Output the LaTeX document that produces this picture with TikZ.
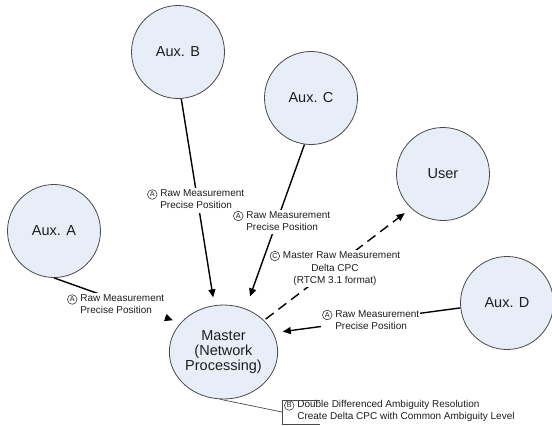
\documentclass[tikz,border=0pt]{standalone}
\usepackage{fontspec}
\setmainfont{Liberation Sans}
\usetikzlibrary{arrows.meta,shapes.geometric}
\definecolor{circfill}{HTML}{E8EEF8}
\definecolor{circline}{HTML}{4A4A4A}
\definecolor{txtcol}{HTML}{1E1E1E}
\newcommand{\circled}[1]{\tikz[baseline=(cl.base)]\node[circle, draw=txtcol,
  line width=0.5pt, inner sep=0pt, minimum size=9.6pt, text=txtcol,
  font=\fontsize{7.2}{7.2}\selectfont] (cl) {#1};}
\newcommand{\ind}{\phantom{\circled{A}\hspace{3pt}}}
\begin{document}
\begin{tikzpicture}[x=1pt,y=-1pt,
  station/.style={circle, draw=circline, fill=circfill, line width=0.8pt,
    minimum size=93pt, inner sep=0pt, align=center, text=txtcol,
    font=\fontsize{14.5}{15}\selectfont},
  link/.style={line width=1.4pt, -{Triangle[length=8pt,width=7pt]}},
  lbl/.style={fill=white, inner sep=1pt, align=left, text=txtcol,
    font=\fontsize{10}{12}\selectfont},
  thin line/.style={draw=circline, line width=0.7pt}]
\useasboundingbox (0,0) rectangle (552,426);
\clip (0,0) rectangle (552,426);
% stations
\node[station] (B) at (178,52) {Aux. B};
\node[station] (C) at (311,98) {Aux. C};
\node[station] (U) at (443,174) {User};
\node[station] (A) at (54,231) {Aux. A};
\node[station] (D) at (507,303) {Aux. D};
\node[station, ellipse, minimum width=87pt, minimum height=94pt]
  (M) at (223.5,352) {Master\\(Network\\Processing)};
% connectors
\draw[link, shorten >=8pt] (B.-86) -- (M.101);
\draw[link, shorten >=13pt] (C.262) -- (M.63);
\draw[link, shorten >=8pt] (A.south) -- (M.146);
\draw[link, shorten >=9.5pt] (D.186) -- (M.21);
\draw[link, dash pattern=on 10pt off 6pt, shorten >=8pt, shorten <=2pt] (M.38) -- (U.227);
% labels
\node[lbl, anchor=west] (lB) at (146,200.5) {\circled{A}\hspace{3pt}Raw Measurement\\\ind Precise Position};
\node[lbl, anchor=west] (lC) at (232,222) {\circled{A}\hspace{3pt}Raw Measurement\\\ind Precise Position};
\node[lbl, anchor=west] (lA) at (66,305.5) {\circled{A}\hspace{3pt}Raw Measurement\\\ind Precise Position};
\node[lbl, anchor=west] (lD) at (321,321) {\circled{A}\hspace{3pt}Raw Measurement\\\ind Precise Position};
\node[lbl, align=center, font=\fontsize{10}{12.5}\selectfont] (lU) at (335,268.3)
  {\circled{C}\hspace{3pt}Master Raw Measurement\\Delta CPC\\(RTCM 3.1 format)};
% callout
\coordinate (bt) at (282,400);
\coordinate (bb) at (282,424);
\coordinate (bm) at (282,412);
\node[lbl, fill=none, anchor=west] (lM) at (283,411.5)
  {\circled{B}\hspace{3pt}Double Differenced Ambiguity Resolution\\\ind Create Delta CPC with Common Ambiguity Level};
\draw[thin line] ([xshift=38pt]bt) -- (bt) -- (bb) -- ([xshift=38pt]bb);
\draw[thin line] (M.-94) -- (bm);
\end{tikzpicture}
\end{document}
